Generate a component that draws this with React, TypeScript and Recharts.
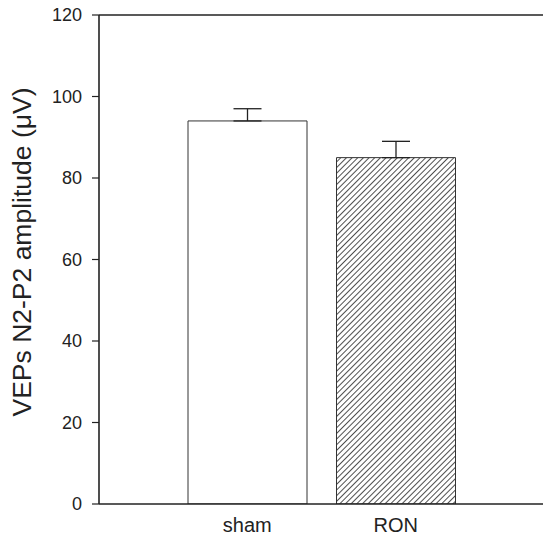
import React from "react"
import {
  BarChart,
  Bar,
  Cell,
  XAxis,
  YAxis,
  ErrorBar,
  ReferenceLine,
  Label,
} from "recharts"

// values
const groups = ["sham", "RON"]
const amplitude = [94, 85]
const sem = [3, 4]
const yTicks = [0, 20, 40, 60, 80, 100, 120]

const data = groups.map((name, i) => ({
  name,
  value: amplitude[i],
  err: [0, sem[i]],
}))

const font = "'Liberation Sans', Arial, Helvetica, sans-serif"
const ink = "#222"

function YTitle() {
  return (
    <text
      x={22}
      y={252}
      transform="rotate(-90 22 252)"
      textAnchor="middle"
      dominantBaseline="central"
      fontFamily={font}
      fontSize={26.5}
      fill={ink}
    >
      VEPs N2-P2 amplitude (μV)
    </text>
  )
}

export default function App() {
  return (
    <div style={{ position: "absolute", left: 0, top: 0, background: "#fff" }}>
      <svg width={0} height={0} style={{ position: "absolute" }}>
        <defs>
          <pattern
            id="hatch"
            patternUnits="userSpaceOnUse"
            width={4}
            height={4}
            patternTransform="rotate(45)"
          >
            <rect width={4} height={4} fill="#fff" />
            <line x1={0} y1={0} x2={0} y2={4} stroke="#222" strokeWidth={1.6} />
          </pattern>
        </defs>
      </svg>
      <BarChart
        width={543}
        height={538}
        data={data}
        margin={{ top: 15, right: 0, bottom: 0, left: 0 }}
        barCategoryGap={0}
      >
        <XAxis
          dataKey="name"
          height={34}
          padding={{ left: 74, right: 73 }}
          axisLine={{ stroke: ink, strokeWidth: 1.6 }}
          tickLine={false}
          tickSize={6}
          tickMargin={8}
          tick={{ fontFamily: font, fontSize: 20, fill: ink }}
        />
        <YAxis
          width={99}
          domain={[0, 120]}
          ticks={yTicks}
          allowDataOverflow
          axisLine={{ stroke: ink, strokeWidth: 1.6 }}
          tickLine={{ stroke: ink, strokeWidth: 1.2 }}
          tickSize={7}
          tickMargin={10}
          tick={{ fontFamily: font, fontSize: 18, fill: ink }}
        >
          <Label content={<YTitle />} />
        </YAxis>
        <ReferenceLine y={120} stroke={ink} strokeWidth={1.6} />
        <Bar
          dataKey="value"
          barSize={119}
          stroke="#333"
          strokeWidth={1}
          isAnimationActive={false}
        >
          {data.map((d, i) => (
            <Cell key={d.name} fill={i === 0 ? "#fff" : "url(#hatch)"} />
          ))}
          <ErrorBar
            dataKey="err"
            width={14}
            stroke={ink}
            strokeWidth={1.3}
            isAnimationActive={false}
          />
        </Bar>
      </BarChart>
    </div>
  )
}
